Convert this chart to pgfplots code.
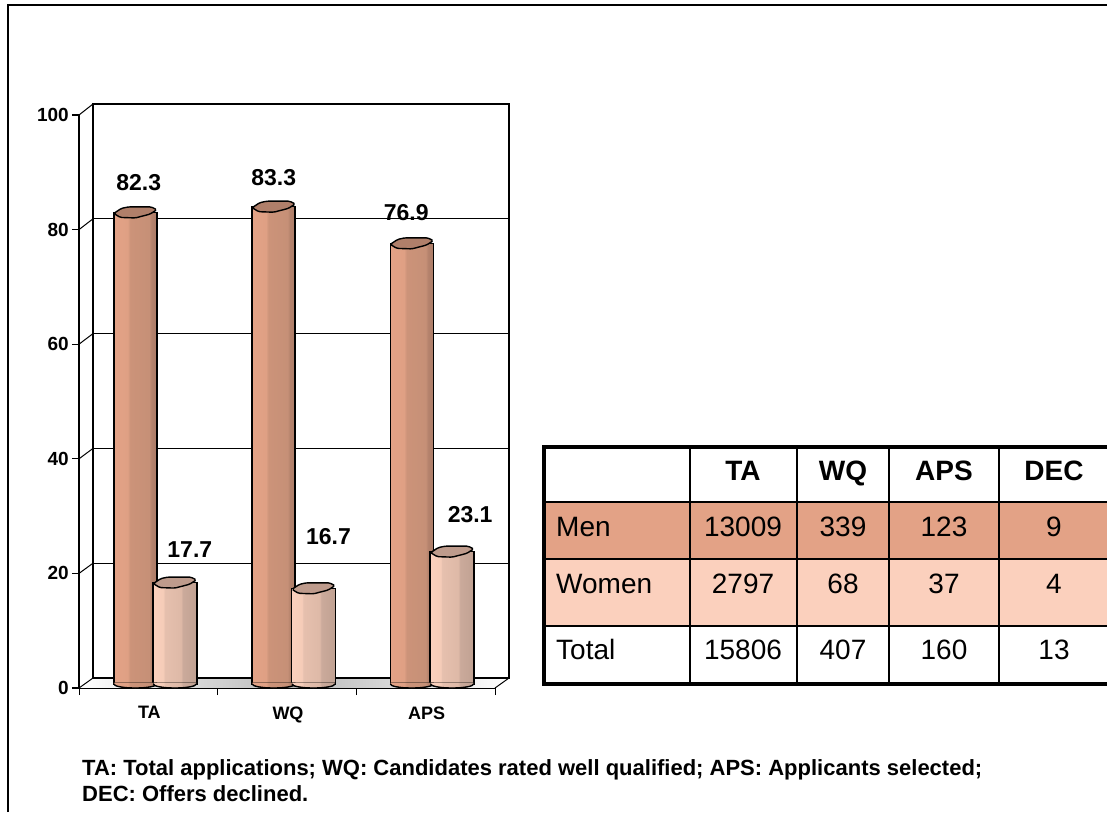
\documentclass[border=0pt]{standalone}
\usepackage{pgfplots}
\pgfplotsset{compat=1.18}
\usepackage{pgfplotstable}
\usepackage{fontspec}
\setmainfont{Liberation Sans}
\definecolor{menC}{HTML}{E3A286}
\definecolor{womenC}{HTML}{FBD0BD}
\definecolor{menTop}{HTML}{B07F6A}
\definecolor{womenTop}{HTML}{BE9B8C}
\definecolor{m1}{HTML}{E3A286}\definecolor{m2}{HTML}{DFA084}\definecolor{m3}{HTML}{CC9379}\definecolor{m4}{HTML}{C69077}\definecolor{m5}{HTML}{B4826C}\definecolor{m6}{HTML}{AC7C68}
\definecolor{w1}{HTML}{FBD0BD}\definecolor{w2}{HTML}{F5CCB8}\definecolor{w3}{HTML}{E6C0AE}\definecolor{w4}{HTML}{DEB9A7}\definecolor{w5}{HTML}{CBAA9B}\definecolor{w6}{HTML}{C0A192}
\pgfdeclarehorizontalshading{menS}{100bp}{color(0bp)=(m1); color(25bp)=(m1); color(41bp)=(m2); color(44bp)=(m3); color(66bp)=(m4); color(69bp)=(m5); color(75bp)=(m6); color(100bp)=(m6)}
\pgfdeclarehorizontalshading{womenS}{100bp}{color(0bp)=(w1); color(25bp)=(w1); color(37bp)=(w2); color(38.5bp)=(w3); color(57bp)=(w4); color(59bp)=(w5); color(75bp)=(w6); color(100bp)=(w6)}
\pgfdeclareplotmark{topM}{\draw[black,line width=1.4pt,fill=menTop,rounded corners=1.5pt] (-21.5pt,-1pt)--(-14pt,4pt)--(-7pt,5.5pt)--(16pt,5.5pt)--(21.5pt,2.7pt)--(14.7pt,-1.7pt)--(0pt,-5.5pt)--(-15pt,-5pt)--cycle;}
\pgfdeclareplotmark{topW}{\draw[black,line width=1.4pt,fill=womenTop,rounded corners=1.5pt] (-21.5pt,-1pt)--(-14pt,4pt)--(-7pt,5.5pt)--(16pt,5.5pt)--(21.5pt,2.7pt)--(14.7pt,-1.7pt)--(0pt,-5.5pt)--(-15pt,-5pt)--cycle;}
\pgfdeclareplotmark{botM}{\shade[shading=menS] (-21.5pt,1.5pt)--(-21.5pt,0pt) arc[start angle=180,end angle=360,x radius=21.5pt,y radius=4pt]--(21.5pt,1.5pt)--cycle;
 \draw[black,line width=1.4pt] (-21.5pt,0pt) arc[start angle=180,end angle=360,x radius=21.5pt,y radius=4pt];}
\pgfdeclareplotmark{botW}{\shade[shading=womenS] (-21.5pt,1.5pt)--(-21.5pt,0pt) arc[start angle=180,end angle=360,x radius=21.5pt,y radius=4pt]--(21.5pt,1.5pt)--cycle;
 \draw[black,line width=1.4pt] (-21.5pt,0pt) arc[start angle=180,end angle=360,x radius=21.5pt,y radius=4pt];}
% x, value, label offset from the bar top (pt)
\pgfplotstableread{
x y dx dy
0.406 82.3 3.5 30
1.404 83.3 0 29
2.400 76.9 -5.5 31
}\menT
\pgfplotstableread{
x y dx dy
0.691 17.7 15 33
1.691 16.7 15 52
2.691 23.1 18 37
}\womenT
\newcommand{\tabfont}{\fontsize{28}{30}\selectfont}
\pgfplotsset{
 menbar/.style={ybar,bar width=43pt,bar shift=0pt,draw=black,line width=1.4pt,shade,shading=menS,forget plot},
 womenbar/.style={ybar,bar width=44pt,bar shift=0pt,draw=black,line width=1.4pt,shade,shading=womenS,forget plot},
 vallabel/.style={only marks,mark=none,forget plot,point meta=y,
  visualization depends on={\thisrow{dx} \as \dxv},
  visualization depends on={\thisrow{dy} \as \dyv},
  nodes near coords,
  nodes near coords style={anchor=center,xshift=\dxv pt,yshift=\dyv pt,font=\fontsize{23}{25}\selectfont\bfseries,
   /pgf/number format/fixed,/pgf/number format/fixed zerofill,/pgf/number format/precision=1}}
}
\begin{document}
\begin{tikzpicture}[x=1pt,y=1pt]
\path[use as bounding box] (0,0) rectangle (1107,-812);
\clip (0,0) rectangle (1107,-812);
% page frame
\draw[black,line width=2pt] (8,-812)--(8,-4.5)--(1107,-4.5);
% back wall
\begin{axis}[at={(93pt,-678pt)},anchor=south west,scale only axis,width=416pt,height=574pt,
 xmin=0,xmax=3,ymin=0,ymax=100,xtick=\empty,ytick={0,20,40,60,80,100},yticklabels={},
 major tick length=0pt,ymajorgrids,grid style={black,line width=1pt},axis line style={black,line width=1.3pt}]
\end{axis}
% floor
\shade[left color=white,right color=white,middle color=black!28] (79,-688)--(93,-678)--(509,-678)--(495,-688)--cycle;
\draw[black,line width=2pt] (93,-678)--(509,-678);
\draw[black,line width=1pt] (495,-688)--(509,-678);
\foreach \v in {0,20,...,100}{\draw[black,line width=1pt] (79,{-688+5.73*\v})--(93,{-678+5.74*\v});}
% front axis
\begin{axis}[at={(79pt,-688pt)},anchor=south west,scale only axis,width=416pt,height=573pt,
 xmin=0,xmax=3,ymin=0,ymax=100,clip=false,
 axis x line=bottom,axis y line=left,axis line style={-},
 x axis line style={line width=1pt},y axis line style={line width=2pt},
 xtick={0.5,1.5,2.5},xticklabels={TA,WQ,APS},minor xtick={0,1,2,3},
 ytick={0,20,40,60,80,100},
 major x tick style={draw=none},
 minor tick length=7pt,
 ytick style={black,line width=1.2pt},major tick length=7pt,
 xtick style={black,line width=1pt},
 tick align=outside,
 /pgf/number format/assume math mode=true,
 yticklabel style={font=\fontsize{19}{20}\selectfont\bfseries,inner sep=0pt,xshift=-3pt},
 xticklabel style={font=\fontsize{18}{20}\selectfont\bfseries,yshift=-8pt,xshift=1pt}]
\end{axis}
% cylinders
\begin{axis}[at={(79pt,-684pt)},anchor=south west,scale only axis,width=416pt,height=573pt,
 xmin=0,xmax=3,ymin=0,ymax=100,clip=false,hide axis,
 /pgf/number format/assume math mode=true]
% men
\addplot[menbar] coordinates {(0.406,82.3)};
\addplot[menbar] coordinates {(1.404,83.3)};
\addplot[menbar] coordinates {(2.400,76.9)};
\addplot[only marks,mark=botM,forget plot] table[x=x,y expr=0] {\menT};
\addplot[only marks,mark=topM,forget plot] table[x=x,y=y] {\menT};
% women
\addplot[womenbar] coordinates {(0.691,17.7)};
\addplot[womenbar] coordinates {(1.691,16.7)};
\addplot[womenbar] coordinates {(2.691,23.1)};
\addplot[only marks,mark=botW,forget plot] table[x=x,y expr=0] {\womenT};
\addplot[only marks,mark=topW,forget plot] table[x=x,y=y] {\womenT};
% value labels
\addplot[vallabel] table[x=x,y=y] {\menT};
\addplot[vallabel] table[x=x,y=y] {\womenT};
\end{axis}
% table
\fill[menC] (544,-502) rectangle (1107,-559);
\fill[womenC] (544,-559) rectangle (1107,-626);
\foreach \y in {502,559,626}{\draw[black,line width=1.3pt] (544,-\y)--(1107,-\y);}
\foreach \x in {690,797,889,999}{\draw[black,line width=1.3pt] (\x,-447)--(\x,-684);}
\draw[black,line width=4pt] (1109,-447)--(543.5,-447)--(543.5,-684)--(1109,-684);
\foreach \x/\t in {743/TA,843/WQ,944/APS,1054/DEC}{\node[font=\tabfont\bfseries,inner sep=0pt,anchor=base] at (\x,-480) {\t};}
\foreach \y/\a/\b/\c/\d/\e in {536/Men/13009/339/123/9,593/Women/2797/68/37/4,659/Total/15806/407/160/13}{
 \node[font=\tabfont,inner sep=0pt,anchor=base west] at (556,-\y) {\a};
 \node[font=\tabfont,inner sep=0pt,anchor=base] at (743,-\y) {\b};
 \node[font=\tabfont,inner sep=0pt,anchor=base] at (843,-\y) {\c};
 \node[font=\tabfont,inner sep=0pt,anchor=base] at (944,-\y) {\d};
 \node[font=\tabfont,inner sep=0pt,anchor=base] at (1054,-\y) {\e};
}
% footnote
\node[font=\fontsize{22}{24}\selectfont\bfseries,inner sep=0pt,anchor=base west] at (82,-775) {TA: Total applications; WQ: Candidates rated well qualified; APS: Applicants selected;};
\node[font=\fontsize{22}{24}\selectfont\bfseries,inner sep=0pt,anchor=base west] at (82,-801) {DEC: Offers declined.};
\end{tikzpicture}
\end{document}
